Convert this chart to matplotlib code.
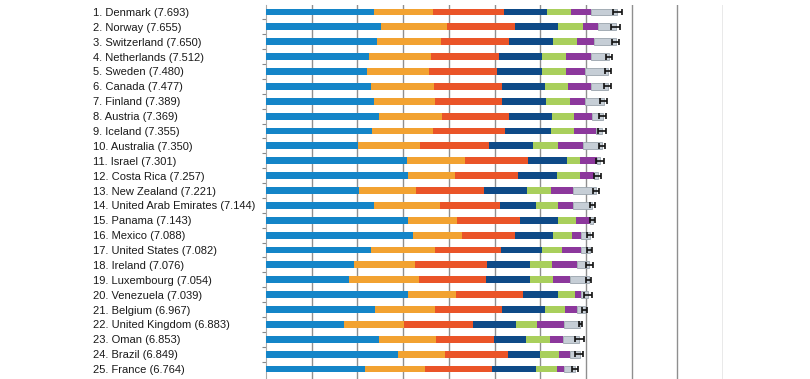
import matplotlib
matplotlib.use("Agg")
import matplotlib.pyplot as plt
import numpy as np

countries = ["Denmark", "Norway", "Switzerland", "Netherlands", "Sweden", "Canada",
             "Finland", "Austria", "Iceland", "Australia", "Israel", "Costa Rica",
             "New Zealand", "United Arab Emirates", "Panama", "Mexico", "United States",
             "Ireland", "Luxembourg", "Venezuela", "Belgium", "United Kingdom", "Oman",
             "Brazil", "France"]
scores = [7.693, 7.655, 7.650, 7.512, 7.480, 7.477, 7.389, 7.369, 7.355, 7.350,
          7.301, 7.257, 7.221, 7.144, 7.143, 7.088, 7.082, 7.076, 7.054, 7.039,
          6.967, 6.883, 6.853, 6.849, 6.764]

dystopia_residual = [2.36, 2.51, 2.43, 2.25, 2.21, 2.29, 2.37, 2.48, 2.32, 2.01,
                     3.08, 3.11, 2.03, 2.37, 3.11, 3.22, 2.29, 1.92, 1.81, 3.11,
                     2.38, 1.70, 2.47, 2.89, 2.16]
gdp = [1.30, 1.45, 1.39, 1.36, 1.35, 1.38, 1.32, 1.37, 1.34, 1.35,
       1.27, 1.03, 1.26, 1.43, 1.07, 1.07, 1.41, 1.33, 1.53, 1.04,
       1.31, 1.33, 1.25, 1.02, 1.31]
social_support = [1.54, 1.49, 1.49, 1.49, 1.49, 1.49, 1.47, 1.46, 1.57, 1.52,
                  1.38, 1.38, 1.47, 1.33, 1.38, 1.16, 1.44, 1.58, 1.47, 1.47,
                  1.47, 1.49, 1.27, 1.38, 1.47]
life_expectancy = [0.95, 0.94, 0.97, 0.95, 0.99, 0.94, 0.97, 0.95, 1.00, 0.97,
                   0.86, 0.84, 0.95, 0.78, 0.84, 0.84, 0.89, 0.94, 0.97, 0.77,
                   0.94, 0.95, 0.71, 0.70, 0.97]
freedom = [0.53, 0.55, 0.53, 0.52, 0.52, 0.51, 0.52, 0.49, 0.50, 0.54,
           0.28, 0.52, 0.53, 0.49, 0.38, 0.41, 0.44, 0.49, 0.51, 0.38,
           0.44, 0.46, 0.51, 0.42, 0.46]
generosity = [0.44, 0.32, 0.37, 0.54, 0.41, 0.50, 0.33, 0.39, 0.49, 0.54,
              0.37, 0.29, 0.48, 0.32, 0.31, 0.19, 0.42, 0.55, 0.36, 0.12,
              0.26, 0.60, 0.29, 0.24, 0.15]
corruption = [0.57, 0.40, 0.47, 0.40, 0.51, 0.37, 0.42, 0.23, 0.14, 0.42,
              0.07, 0.10, 0.51, 0.42, 0.06, 0.20, 0.20, 0.26, 0.41, 0.15,
              0.17, 0.35, 0.35, 0.21, 0.24]
ci_half = [0.09, 0.10, 0.08, 0.07, 0.07, 0.07, 0.08, 0.08, 0.08, 0.06,
           0.09, 0.08, 0.07, 0.05, 0.05, 0.06, 0.05, 0.08, 0.06, 0.09,
           0.06, 0.03, 0.10, 0.08, 0.07]

series = [dystopia_residual, gdp, social_support, life_expectancy, freedom,
          generosity, corruption]
colors = ["#1485c8", "#f2a231", "#ea5428", "#0e4a87", "#a9cf5c", "#8c389c", "#c6ced6"]

labels = [f"{i + 1}. {c} ({s:.3f})" for i, (c, s) in enumerate(zip(countries, scores))]

plt.rcParams['font.family'] = ['Liberation Sans', 'DejaVu Sans']

fig = plt.figure(figsize=(8.10, 3.79), dpi=100)
ax = fig.add_axes([266 / 810, 0.0, (723 - 266) / 810, (379 - 5) / 379])

y = np.arange(len(countries))
left = np.zeros(len(countries))
for i, (vals, col) in enumerate(zip(series, colors)):
    vals = np.array(vals)
    if i == len(series) - 1:
        ax.barh(y, vals, left=left, height=0.46, color=col, edgecolor="#9aa4ad",
                linewidth=0.6, zorder=3)
    else:
        ax.barh(y, vals, left=left, height=0.46, color=col, linewidth=0, zorder=3)
    left = left + vals

ax.errorbar(scores, y, xerr=ci_half, fmt="none", ecolor="#111111",
            elinewidth=1.2, capsize=2.2, capthick=1.2, zorder=4)

ax.set_xlim(0, 10)
ax.set_ylim(24.67, -0.47)
ax.set_xticks(np.arange(1, 11))
ax.tick_params(axis="x", length=0, labelbottom=False)
ax.grid(axis="x", color="#8f8f8f", linewidth=1.0, zorder=0)

ax.set_yticks(y)
ax.set_yticklabels(labels, ha="left", fontsize=8, color="#1a1a1a")
ax.tick_params(axis="y", which="major", length=0, pad=(266 - 93) * 0.72)
ax.set_yticks(y[:-1] + 0.5, minor=True)
ax.tick_params(axis="y", which="minor", length=3, width=0.8, color="#888888",
               direction="out")

for s in ["top", "right", "bottom"]:
    ax.spines[s].set_visible(False)
ax.spines["left"].set_color("#aaaaaa")
ax.spines["left"].set_linewidth(0.8)

fig.savefig("out.png", dpi=100)
